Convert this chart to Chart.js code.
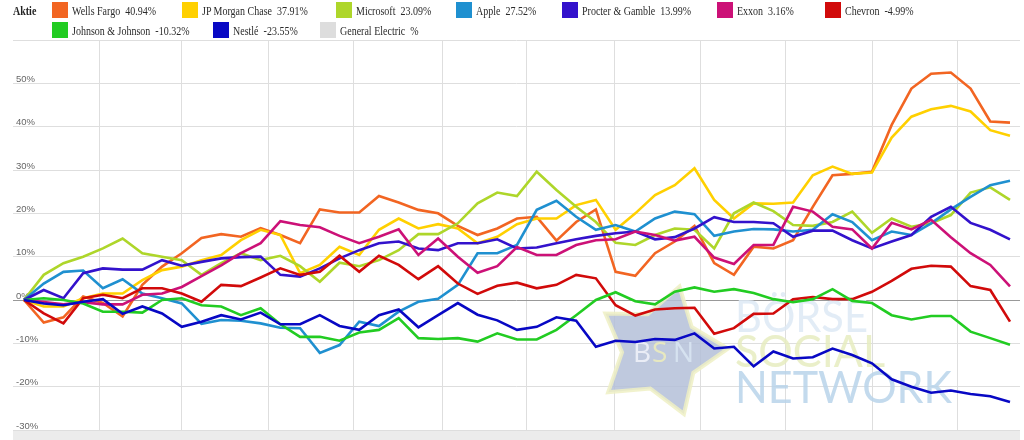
<!DOCTYPE html>
<html>
<head>
<meta charset="utf-8">
<title>Aktien Performance</title>
<script src="https://cdn.jsdelivr.net/npm/chart.js@4.4.1/dist/chart.umd.min.js"></script>
<style>
  body { margin: 0; background: #fff; }
  #wrap { position: relative; width: 1024px; height: 440px; overflow: hidden; }
  #perfChart { position: absolute; left: 0; top: 0; }
  .item { position: absolute; height: 16px; }
  .swatch { position: absolute; left: 0; top: 0; width: 16px; height: 16px; }
  .label {
    position: absolute; left: 20px; top: 1px; line-height: 16px; white-space: nowrap;
    font-family: "Liberation Serif", "DejaVu Serif", serif; font-size: 12.5px; color: #2a2a2a;
    transform: scaleX(0.8); transform-origin: 0 0;
  }
  .title { left: 0; font-weight: bold; color: #222; }
</style>
</head>
<body>
<div id="wrap">
  <canvas id="perfChart" width="1024" height="440"></canvas>
  <div id="legend"></div>
</div>
<script>
// Wochen seit Jahresbeginn (x), Monatsgrenzen fuer die senkrechten Linien
const weeks = Array.from({ length: 51 }, (_, i) => i);
const monthLines = [3.85, 8.01, 12.42, 16.73, 21.2, 25.5, 29.92, 34.33, 38.64, 43.05, 47.36];

const names = ['Wells Fargo', 'JP Morgan Chase', 'Microsoft', 'Apple', 'Procter & Gamble',
  'Exxon', 'Chevron', 'Johnson & Johnson', 'Nestlé', 'General Electric'];
const changes = ['40.94', '37.91', '23.09', '27.52', '13.99', '3.16', '-4.99', '-10.32', '-23.55', ''];
const colors = ['#f26522', '#ffd000', '#aed62a', '#1f90d0', '#3312cc',
  '#cc1177', '#d10a0a', '#22cc22', '#0808c4', '#dddddd'];

// Performance in % je Woche
const wellsFargo = [0, -5.2, -4, 0.8, -0.7, -3.8, 3.5, 7.7, 10.8, 14.3, 15.2, 14.6, 16.6, 15, 13.1, 20.9, 20.2, 20.2, 24, 22.5,
  20.8, 20, 17.1, 15, 16.5, 18.8, 19.2, 13.7, 18, 20.9, 6.5, 5.6, 10.8, 13.5, 17.1, 8.5, 5.8, 12.3, 11.9, 13.8,
  21.5, 28.8, 29.1, 29.6, 40.4, 48.8, 52.2, 52.5, 48.8, 41.2, 40.94];
const jpMorgan = [0, -1.5, -1.5, 0.4, 1.5, 1.5, 4.6, 6.9, 7.7, 9.2, 10.4, 13.8, 16.2, 15, 6.2, 8.1, 12.3, 10.4, 16.2, 18.8,
  16.5, 17.5, 16.5, 13.1, 14.6, 17.5, 18.8, 18.8, 21.9, 23.1, 16.2, 20, 24.2, 26.5, 30.4, 23.1, 18.8, 22.3, 22.2, 22.5,
  28.8, 30.8, 29.1, 29.4, 37.5, 42.3, 44, 44.8, 43.5, 39.2, 37.91];
const microsoft = [0, 5.8, 8.5, 10, 11.9, 14.2, 10.8, 10, 9.2, 5.8, 8.5, 10.8, 9.2, 10.2, 7.8, 4.2, 8.6, 7.8, 9.2, 11.5,
  15.2, 15.2, 17.7, 22.3, 24.8, 24, 29.6, 25.4, 21.5, 18, 13.2, 12.7, 15, 16.5, 16.2, 11.9, 20, 22.5, 20.5, 17.3,
  17.1, 18, 20.4, 15.5, 18.8, 16.9, 17.7, 19.6, 24.8, 26, 23.09];
const apple = [0, 3.8, 6.5, 6.8, 2.7, 4.8, 1.5, 0.4, -0.8, -5.5, -4.6, -4.8, -5.4, -6.4, -6.5, -12.2, -10.4, -5, -6, -2.7,
  -0.4, 0.3, 3.5, 10.8, 10.8, 12.7, 20.8, 22.9, 19.2, 16.2, 17.3, 15.8, 18.8, 20.4, 19.8, 14.8, 15.8, 16.4, 16.3, 15.8,
  16.2, 19.8, 18, 13.8, 15.8, 15, 17.7, 20.9, 23.8, 26.5, 27.52];
const procter = [0, 2.3, 0.4, 6.2, 7.3, 7, 7, 9.2, 7.9, 8.8, 9.6, 9.9, 10, 5.8, 5.4, 7.3, 9.6, 11.5, 13.1, 13.5,
  11.9, 11.5, 13.1, 13.1, 14, 11.9, 12.1, 13.1, 14, 14.8, 15.4, 15.8, 14, 14.5, 16.5, 19.1, 18, 18, 17.7, 14.6,
  16, 16, 13.8, 11.9, 13.5, 15, 19.2, 21.5, 17.8, 16.2, 13.99];
const exxon = [0, -0.5, -1, -0.5, -1, -1, 1.2, 1.5, 3, 5.5, 8, 10.8, 13.1, 18.2, 17.3, 16.8, 14.8, 13.1, 14.6, 16.3,
  10.4, 14.2, 10, 6.3, 7.8, 12.2, 10.4, 10.4, 12.7, 13.8, 14, 15.8, 15, 13.7, 14.6, 9.8, 8.3, 12.7, 12.7, 21.5,
  20.4, 16.9, 16.3, 11.9, 17.8, 16.3, 18.5, 14.5, 10.8, 8.1, 3.16];
const chevron = [0, -3.1, -5.4, 0.4, 1.2, 0.4, 2.7, 2.7, 1.5, -0.4, 3.5, 3.2, 5.2, 7.3, 5.8, 6.5, 10.2, 6.5, 10.2, 8.1,
  4.8, 7.8, 3.8, 1.4, 3.3, 4, 2.7, 3.5, 5.8, 5, -1.2, -3.6, -2.2, -1.9, -1.8, -7.8, -6.5, -3.2, -3.1, 0.2,
  0.7, 0.2, 0.2, 1.9, 4.4, 7.2, 7.9, 7.7, 3.2, 2.3, -4.99];
const johnson = [0, 0.4, 0, -0.8, -2.7, -2.7, -2.9, 0, 0.4, -1.2, -1.5, -3.5, -1.9, -5.6, -8.5, -8.5, -9.4, -7.5, -6.9, -4.2,
  -8.8, -9, -8.8, -9.6, -7.7, -9.1, -9.1, -6.9, -3.5, 0, 1.8, -0.3, -1, 1.9, 2.9, 1.9, 2.5, 1.6, 0.2, -0.5,
  0.2, 2.5, -0.2, -0.7, -3.5, -4.5, -3.7, -3.7, -7.3, -8.8, -10.32];
const nestle = [0, -0.8, -1.2, -0.4, 0.2, -3.2, -1.5, -3.1, -6.2, -5, -3.5, -4.5, -2.9, -5.6, -5.6, -3.5, -6, -6.9, -3.5, -2.2,
  -6.3, -3.5, -0.7, -3.4, -4.7, -6.9, -6.2, -4, -4.8, -10.8, -9.4, -9.7, -9, -9.2, -7.7, -11.2, -10.8, -15.3, -11.9, -13.5,
  -13.2, -11.2, -12.7, -14.6, -18.3, -20, -21.4, -20.9, -21.7, -22.2, -23.55];
const generalElectric = [];

const seriesValues = [wellsFargo, jpMorgan, microsoft, apple, procter, exxon, chevron, johnson, nestle, generalElectric];

// Legende (HTML), Platz je Eintrag
const legendSlots = [[52, 0], [182, 0], [336, 0], [456, 0], [562, 0], [717, 0], [825, 0], [52, 1], [213, 1], [320, 1]];
const rowTop = [2, 22];

const legend = document.getElementById('legend');
let html = '<div class="item" style="left:13px;top:2px"><span class="label title">Aktie</span></div>';
names.forEach((n, i) => {
  const [x, row] = legendSlots[i];
  html += '<div class="item" style="left:' + x + 'px;top:' + rowTop[row] + 'px">' +
    '<span class="swatch" style="background:' + colors[i] + '"></span>' +
    '<span class="label">' + n.replace('&', '&amp;') + '&nbsp;&nbsp;' + changes[i] + '%</span></div>';
});
legend.innerHTML = html;

// Hintergrundband unten und BSN-Wasserzeichen
function drawStar(ctx, cx, cy, rOut, rIn, rot) {
  ctx.beginPath();
  for (let k = 0; k < 10; k++) {
    const r = k % 2 ? rIn : rOut;
    const a = rot + k * Math.PI / 5;
    ctx.lineTo(cx + r * Math.cos(a), cy + r * Math.sin(a));
  }
  ctx.closePath();
}

function fitText(ctx, text, x, y, width) {
  const w = ctx.measureText(text).width;
  ctx.save();
  ctx.translate(x, y);
  ctx.scale(width / w, 1);
  ctx.fillText(text, 0, 0);
  ctx.restore();
}

const backdrop = {
  id: 'backdrop',
  beforeDraw(chart) {
    const { ctx, chartArea: a } = chart;
    ctx.save();
    ctx.fillStyle = '#ececec';
    ctx.fillRect(a.left, a.bottom, a.right - a.left, chart.height - a.bottom);
    ctx.fillStyle = '#e2e2e2';
    ctx.fillRect(a.left, a.bottom, a.right - a.left, 1);
    ctx.restore();
  },
  beforeDatasetsDraw(chart) {
    const ctx = chart.ctx;
    ctx.save();
    ctx.globalAlpha = 0.85;
    drawStar(ctx, 661, 351, 67, 39, -0.035);
    ctx.fillStyle = '#b4bfd8';
    ctx.fill();
    ctx.lineWidth = 4;
    ctx.strokeStyle = '#eef0c4';
    ctx.stroke();
    ctx.textBaseline = 'alphabetic';
    ctx.font = '28px "Open Sans", sans-serif';
    ctx.fillStyle = '#f2f5fa';
    ctx.fillText('B', 633, 362);
    ctx.fillStyle = '#eeeebb';
    ctx.fillText('S', 652, 362);
    ctx.fillStyle = '#dbe7f3';
    ctx.fillText('N', 673, 362);
    ctx.font = '44px Lato, sans-serif';
    ctx.fillStyle = '#dde9f5';
    fitText(ctx, 'BÖRSE', 735, 332, 133);
    ctx.fillStyle = '#e6ecbf';
    fitText(ctx, 'SOCIAL', 735, 367, 150);
    ctx.fillStyle = '#b9d4ea';
    fitText(ctx, 'NETWORK', 735, 403, 217);
    ctx.restore();
  }
};

const ctx = document.getElementById('perfChart').getContext('2d');
const perfChart = new Chart(ctx, {
  type: 'line',
  data: {
    datasets: names.map((n, i) => ({
      label: n + ' ' + changes[i] + '%',
      data: seriesValues[i].map((v, k) => ({ x: weeks[k], y: v })),
      borderColor: colors[i],
      backgroundColor: colors[i],
      borderWidth: 2.6,
      pointRadius: 0,
      tension: 0,
      order: names.length - i
    }))
  },
  options: {
    responsive: false,
    animation: false,
    layout: { padding: { top: 40, bottom: 10, left: 0, right: 4 } },
    plugins: {
      legend: { display: false },
      tooltip: { enabled: false }
    },
    scales: {
      x: {
        type: 'linear',
        min: -0.558,
        max: 50.507,
        afterBuildTicks: (scale) => { scale.ticks = monthLines.map(v => ({ value: v })); },
        ticks: { display: false },
        grid: { color: '#dedede', drawTicks: false },
        border: { display: false }
      },
      y: {
        min: -30,
        max: 60,
        afterFit: (scale) => { scale.width = 13; },
        ticks: {
          stepSize: 10,
          mirror: true,
          padding: 3,
          labelOffset: -4,
          color: '#666',
          font: { family: '"Liberation Sans", Arial, sans-serif', size: 9.5 },
          callback: (v) => (v === 60 ? '' : v + '%')
        },
        grid: {
          drawTicks: false,
          color: (c) => (c.tick && c.tick.value === 0 ? '#999' : '#dedede')
        },
        border: { display: false }
      }
    }
  },
  plugins: [backdrop]
});
</script>
</body>
</html>
